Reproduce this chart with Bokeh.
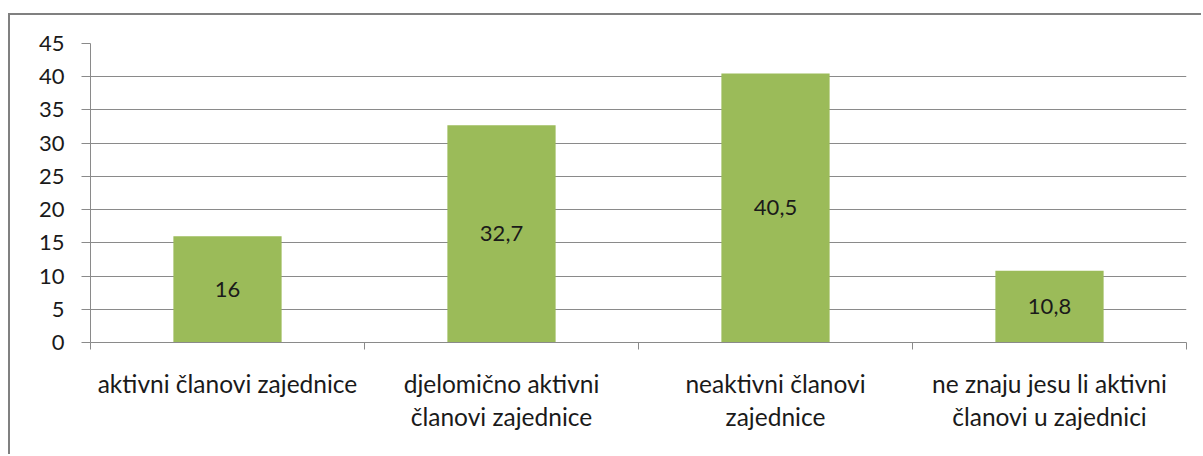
from bokeh.plotting import figure
from bokeh.models import ColumnDataSource, FixedTicker, Range1d
from bokeh.core.properties import value
from bokeh.embed import file_html
from bokeh.resources import INLINE

categories = [
    "aktivni članovi zajednice",
    "djelomično aktivni članovi zajednice",
    "neaktivni članovi zajednice",
    "ne znaju jesu li aktivni članovi u zajednici",
]
wrapped = [
    "aktivni članovi zajednice",
    "djelomično aktivni\nčlanovi zajednice",
    "neaktivni članovi\nzajednice",
    "ne znaju jesu li aktivni\nčlanovi u zajednici",
]
values = [16, 32.7, 40.5, 10.8]
y_ticks = [0, 5, 10, 15, 20, 25, 30, 35, 40, 45]

FONT = "Lato"
GRAY = "#8a8a8a"
TEXT = "#1a1a1a"

xs = [i + 0.5 for i in range(len(categories))]
labels = [f"{v:g}".replace(".", ",") for v in values]
src = ColumnDataSource(dict(x=xs, top=values, mid=[v / 2 for v in values], label=labels, cat=categories))

p = figure(width=1193, height=441, output_backend="svg", toolbar_location=None,
           x_range=Range1d(0, len(categories)), y_range=Range1d(0, 45),
           min_border_left=80, min_border_right=17, min_border_top=28, min_border_bottom=114)
p.styles = {"border-top": "2px solid #808080", "border-left": "2px solid #808080",
            "margin-top": "13px", "margin-left": "8px"}
p.outline_line_color = None
p.background_fill_color = "white"
p.border_fill_color = "white"

p.vbar(x="x", top="top", bottom=0, width=0.395, source=src, fill_color="#9BBB59", line_color=None)
p.text(x="x", y="mid", text="label", source=src, text_align="center", text_baseline="middle",
       text_font=value(FONT), text_font_size="22px", text_color=TEXT)

# y axis
p.yaxis.ticker = FixedTicker(ticks=y_ticks)
p.yaxis.axis_line_color = GRAY
p.yaxis.major_tick_line_color = GRAY
p.yaxis.major_tick_out = 9
p.yaxis.major_tick_in = 0
p.yaxis.minor_tick_line_color = None
p.yaxis.major_label_standoff = 17
p.yaxis.major_label_text_font = FONT
p.yaxis.major_label_text_font_size = "22px"
p.yaxis.major_label_text_color = TEXT

# x axis: labels at centers, tick marks at boundaries
p.xaxis.ticker = FixedTicker(ticks=xs, minor_ticks=list(range(len(categories) + 1)))
p.xaxis.major_label_overrides = {x: w for x, w in zip(xs, wrapped)}
p.xaxis.axis_line_color = GRAY
p.xaxis.major_tick_line_color = None
p.xaxis.major_tick_out = 0
p.xaxis.major_tick_in = 0
p.xaxis.minor_tick_line_color = GRAY
p.xaxis.minor_tick_out = 7
p.xaxis.minor_tick_in = 0
p.xaxis.major_label_standoff = 19
p.xaxis.major_label_text_font = FONT
p.xaxis.major_label_text_font_size = "24.5px"
p.xaxis.major_label_text_color = TEXT
p.xaxis.major_label_text_line_height = 1.15

p.xgrid.grid_line_color = None
p.ygrid.grid_line_color = GRAY
p.ygrid.grid_line_width = 1

open("out.html", "w").write(file_html(p, INLINE))
